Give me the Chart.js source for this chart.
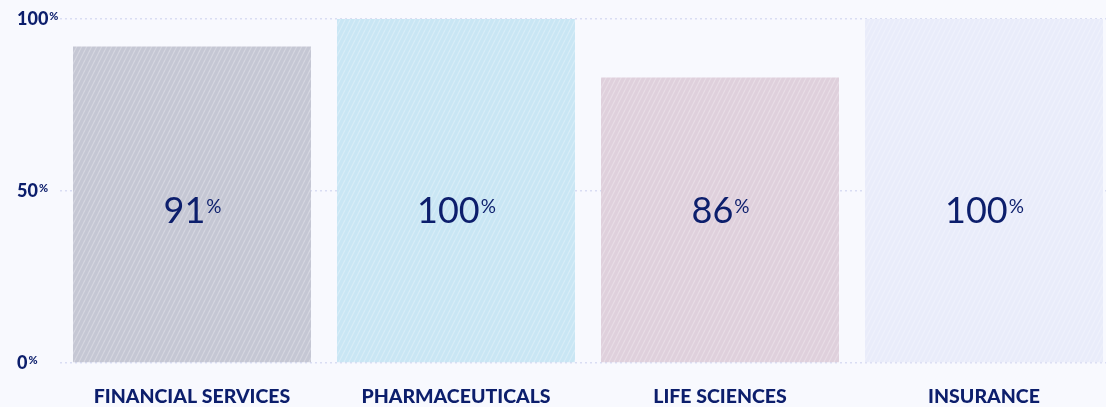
<!DOCTYPE html>
<html>
<head>
<meta charset="utf-8">
<script src="https://cdn.jsdelivr.net/npm/chart.js@4"></script>
<style>
  html, body { margin: 0; padding: 0; background: #F8F9FE; overflow: hidden; }
  #wrap { width: 1116px; height: 407px; position: relative; }
</style>
</head>
<body>
<div id="wrap"><canvas id="chart"></canvas></div>
<script>
var categories = ['FINANCIAL SERVICES', 'PHARMACEUTICALS', 'LIFE SCIENCES', 'INSURANCE'];
var barValues = [92, 100, 83, 100];
var barLabels = ['91', '100', '86', '100'];
var yTicks = [0, 50, 100];
var barColors = ['#C5C7D4', '#C9E6F4', '#DFD0DC', '#E9ECFA'];

var navy = '#0C1E6C';
var fontFam = 'Lato, "Open Sans", sans-serif';

function hatch(base) {
  var c = document.createElement('canvas');
  c.width = 5; c.height = 10;
  var g = c.getContext('2d');
  g.fillStyle = base;
  g.fillRect(0, 0, 5, 10);
  g.strokeStyle = 'rgba(255,255,255,0.28)';
  g.lineWidth = 1.2;
  [-5, 0, 5].forEach(function(o){
    g.beginPath();
    g.moveTo(o, 10);
    g.lineTo(o + 5, 0);
    g.stroke();
  });
  return g.createPattern(c, 'repeat');
}

// labels drawn by hand so that % can be a superscript
var pctPlugin = {
  id: 'pct',
  afterDatasetsDraw: function(chart) {
    var ctx = chart.ctx;
    var y = chart.scales.y;
    var meta = chart.getDatasetMeta(0);
    ctx.save();
    ctx.fillStyle = navy;

    // value labels in bars
    var ly = y.getPixelForValue(44);
    meta.data.forEach(function(bar, i) {
      ctx.font = '400 36px ' + fontFam;
      var w1 = ctx.measureText(barLabels[i]).width;
      ctx.font = '400 19px ' + fontFam;
      var w2 = ctx.measureText('%').width;
      var x0 = bar.x - (w1 + w2) / 2;
      ctx.textBaseline = 'middle';
      ctx.textAlign = 'left';
      ctx.font = '400 36px ' + fontFam;
      ctx.fillText(barLabels[i], x0, ly);
      ctx.textBaseline = 'top';
      ctx.font = '400 19px ' + fontFam;
      ctx.fillText('%', x0 + w1 + 1, ly - 14);
    });

    // y tick labels
    yTicks.forEach(function(v) {
      var py = y.getPixelForValue(v);
      ctx.textAlign = 'left';
      ctx.textBaseline = 'middle';
      ctx.font = '900 18px ' + fontFam;
      var t = String(v);
      var w = ctx.measureText(t).width;
      ctx.fillText(t, 17, py);
      ctx.textBaseline = 'top';
      ctx.font = '900 11px ' + fontFam;
      ctx.fillText('%', 17 + w + 1, py - 8);
    });
    ctx.restore();
  }
};

var ctx = document.getElementById('chart');
new Chart(ctx, {
  type: 'bar',
  data: {
    labels: categories,
    datasets: [{
      data: barValues,
      backgroundColor: barColors.map(hatch),
      borderWidth: 0,
      categoryPercentage: 1,
      barPercentage: 0.9015
    }]
  },
  options: {
    responsive: true,
    maintainAspectRatio: false,
    animation: false,
    layout: { padding: { top: 19, bottom: 0, left: 0, right: 0 } },
    plugins: { legend: { display: false }, tooltip: { enabled: false } },
    scales: {
      x: {
        afterFit: function(s) { s.height = 44; },
        grid: { display: false },
        border: { display: false },
        ticks: { color: navy, padding: 14, font: { family: fontFam, size: 19.5, weight: '900' }, maxRotation: 0 }
      },
      y: {
        min: 0, max: 100,
        afterFit: function(s) { s.width = 60; },
        border: { display: false, dash: [2, 3] },
        grid: { color: '#D9DDF3', lineWidth: 1.5, drawTicks: false },
        ticks: { display: false, stepSize: 50 }
      }
    }
  },
  plugins: [pctPlugin]
});
</script>
</body>
</html>
